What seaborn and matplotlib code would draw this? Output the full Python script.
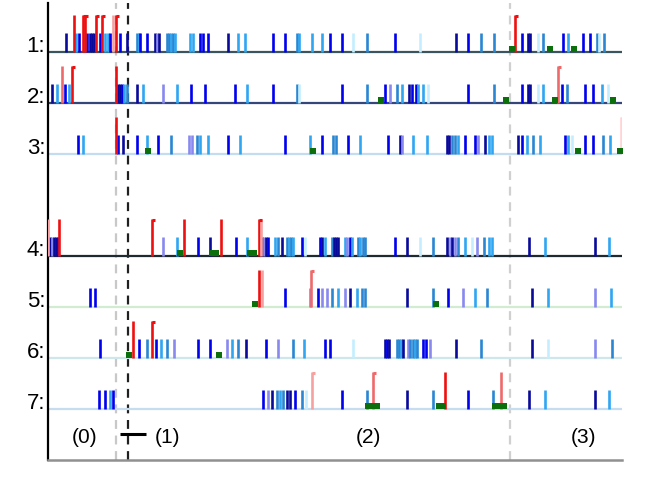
import numpy as np
import pandas as pd
import matplotlib.pyplot as plt
import seaborn as sns

sns.set_theme(style="white")
plt.rcParams['font.family'] = ['Liberation Sans', 'DejaVu Sans']

# -----------------------------
# Data (event times, arbitrary time units)
# -----------------------------
row_names = ["1:", "2:", "3:", "4:", "5:", "6:", "7:"]
row_level = [8, 7, 6, 4, 3, 2, 1]
baseline_colors = ["#3a5560", "#34467a", "#c4dcf0", "#1e2a30", "#d2ecd2", "#cfe6ea", "#c8dcf0"]

# blue spikes: times + colour code per spike
# n=navy b=blue s=steel l=light v=lavender c=pale
r1_t = [66, 76, 79, 87, 90, 92, 94, 100, 105, 108, 110, 120, 127, 137, 139, 140, 147, 155, 157, 159,
        167, 169, 171, 173, 175, 190, 193, 200, 203, 208, 228, 238, 245, 273, 285, 297, 299, 312, 322,
        330, 342, 353, 367, 395, 420, 456, 468, 481, 494, 522, 528, 530, 538, 543, 563, 568, 583, 590,
        597, 599, 604]
r1_c = "nlbbnnnbllbbnslbbnvnsslslllbbbnllbbslllbbcsbcnbssbnncsblbbsc" + "s"
r2_t = [52, 57, 65, 69, 118, 120, 122, 124, 127, 137, 143, 163, 177, 191, 205, 235, 247, 273, 297, 299,
        342, 367, 385, 390, 397, 402, 409, 412, 416, 418, 423, 428, 468, 494, 522, 528, 530, 538, 543,
        562, 567, 585, 593, 602, 608]
r2_c = "nlblnnblsnlvlbbblbscbsbvslnbbllcbsbnnclbsbblc"
r3_t = [78, 83, 118, 123, 137, 147, 158, 171, 189, 192, 197, 200, 208, 228, 240, 285, 310, 322,
        333, 336, 348, 360, 388, 400, 402, 413, 427, 447, 449, 452, 455, 458, 465, 475, 478, 485, 489,
        492, 518, 522, 527, 533, 540, 565, 568, 572, 585, 593, 603, 610]
r3_c = "blbnblbsvvsllblblbssblbnvllnnssl" + "bbvnllnblslblcbbsl"
r4_t = [50, 52, 54, 56, 58, 163, 177, 198, 210, 236, 247, 262, 264, 266, 268, 275, 278, 282, 287, 289,
        291, 293, 302, 305, 320, 322, 325, 332, 334, 336, 338, 345, 347, 350, 352, 358, 360, 363, 365,
        395, 407, 420, 433, 447, 450, 452, 455, 458, 465, 472, 477, 484, 489, 492, 529, 545, 595, 609]
r4_c = "nvnnbvlbnblnvnblsnslslbcbnlsnnnlvblslssbncsnvnvslcvsllnlnl"[:58]
r5_t = [90, 95, 285, 310, 318, 322, 327, 332, 338, 345, 350, 357, 362, 365, 407, 433, 448, 463, 475,
        487, 532, 548, 595, 611]
r5_c = "bbbvbvvslvnlssnsbvlsnlvl"
r6_t = [100, 139, 147, 156, 161, 167, 174, 198, 210, 227, 232, 238, 246, 266, 278, 293, 304, 325,
        330, 353, 385, 387, 389, 397, 399, 401, 403, 408, 410, 413, 415, 417, 423, 426, 430, 456, 481,
        532, 548, 595, 612]
r6_c = "bbsblsvbbvlsnbvslbbcnbnssln" + "vsslsbbvnsncvs"
r7_t = [99, 105, 110, 113, 263, 268, 272, 277, 280, 283, 287, 290, 295, 302, 306,
        342, 367, 407, 433, 468, 493, 529, 545, 595, 609]
r7_c = "bblbbvnslsnnbscbsnsbsnlnl"

# red spikes (tall), colour code r=red p=pink m=salmon w=pale, cap = small flag on top
red_row = [1, 1, 1, 1, 1, 1, 1, 1, 2, 2, 2, 2, 3, 3, 4, 4, 4, 4, 4, 4, 4, 5, 5, 5, 6, 6, 7, 7, 7, 7]
red_t = [74, 83, 85, 96, 102, 113, 116, 515, 62, 72, 116, 558, 116, 621, 48, 59, 152, 184, 221, 259,
         261, 259, 262, 311, 133, 152, 312, 373, 445, 501]
red_c = "rrrrrprrmrrmrwprrrrrprpmrrpmrm"
red_cap = [0, 1, 1, 1, 1, 0, 1, 1, 0, 1, 0, 1, 0, 1, 0, 0, 1, 0, 0, 1, 0, 0, 0, 1, 0, 1, 1, 1, 0, 0]

# green markers
green_row = [1, 1, 1, 2, 2, 2, 2, 3, 3, 3, 3, 4, 4, 4, 4, 4, 5, 5, 6, 6, 7, 7, 7, 7, 7, 7, 7, 7]
green_t = [512, 550, 574, 381, 506, 555, 613, 148, 313, 578, 620, 180, 212, 216, 250, 254, 255, 436,
           129, 219, 368, 373, 377, 439, 443, 495, 500, 504]

# phases
phase_names = ["(0)", "(1)", "(2)", "(3)"]
phase_x = [85, 168, 368, 583]
bounds = [116, 127.5, 510]
bound_colors = ["#c8c8c8", "#202020", "#d0d0d0"]

# -----------------------------
# Build tables
# -----------------------------
blue_colors = {"n": "#0a0a9a", "b": "#0000f0", "s": "#2a86d2", "l": "#2ea6f2",
               "v": "#8888ee", "c": "#c4eeff"}
red_colors = {"r": "#ee1010", "p": "#f6a0a0", "m": "#ee6a6a", "w": "#ffd4d4"}

times = [r1_t, r2_t, r3_t, r4_t, r5_t, r6_t, r7_t]
codes = [r1_c, r2_c, r3_c, r4_c, r5_c, r6_c, r7_c]
blue = pd.concat([pd.DataFrame({"row": i + 1, "t": t, "code": list(c[:len(t)])})
                  for i, (t, c) in enumerate(zip(times, codes))], ignore_index=True)
blue["level"] = blue["row"].map(lambda r: row_level[r - 1])

red = pd.DataFrame({"row": red_row, "t": red_t, "code": list(red_c), "cap": red_cap})
red["level"] = red["row"].map(lambda r: row_level[r - 1])

green = pd.DataFrame({"row": green_row, "t": green_t})
green["level"] = green["row"].map(lambda r: row_level[r - 1]) + 0.05

# -----------------------------
# Plot
# -----------------------------
fig = plt.figure(figsize=(6.64, 4.98), dpi=100)
ax = fig.add_axes([48 / 664, 38 / 498, 574 / 664, 457 / 498])

for lvl, col in zip(row_level, baseline_colors):
    ax.axhline(lvl, color=col, lw=1.6, zorder=1)

for b, col in zip(bounds, bound_colors):
    ax.axvline(b, color=col, lw=1.6, ls=(0, (4, 3)), zorder=0)

ax.vlines(blue["t"], blue["level"], blue["level"] + 0.37,
          colors=blue["code"].map(blue_colors), lw=1.9, zorder=2)
ax.vlines(red["t"], red["level"], red["level"] + 0.72,
          colors=red["code"].map(red_colors), lw=1.9, zorder=3)
capped = red[red["cap"] == 1]
ax.hlines(capped["level"] + 0.70, capped["t"], capped["t"] + 3,
          colors=capped["code"].map(red_colors), lw=2.2, zorder=3)

sns.scatterplot(data=green, x="t", y="level", marker="s", color="#0b700b",
                s=24, linewidth=0, legend=False, ax=ax, zorder=4)

for name, lvl in zip(row_names, row_level):
    ax.text(-0.005, lvl, name, transform=ax.get_yaxis_transform(),
            ha="right", va="baseline", fontsize=16, color="black")

for name, x in zip(phase_names, phase_x):
    ax.text(x, 0.45, name, ha="center", va="center", fontsize=15, color="black")
ax.hlines(0.51, 120, 146, color="black", lw=2.2)

ax.set_xlim(48, 622)
ax.set_ylim(0, 8.96)
ax.set_xticks([])
ax.set_yticks([])
ax.set_xlabel("")
ax.set_ylabel("")
sns.despine(ax=ax, top=True, right=True)
ax.spines["left"].set_color("black")
ax.spines["left"].set_linewidth(1.6)
ax.spines["bottom"].set_color("#909090")
ax.spines["bottom"].set_linewidth(1.8)

fig.savefig("out.png", dpi=100)
